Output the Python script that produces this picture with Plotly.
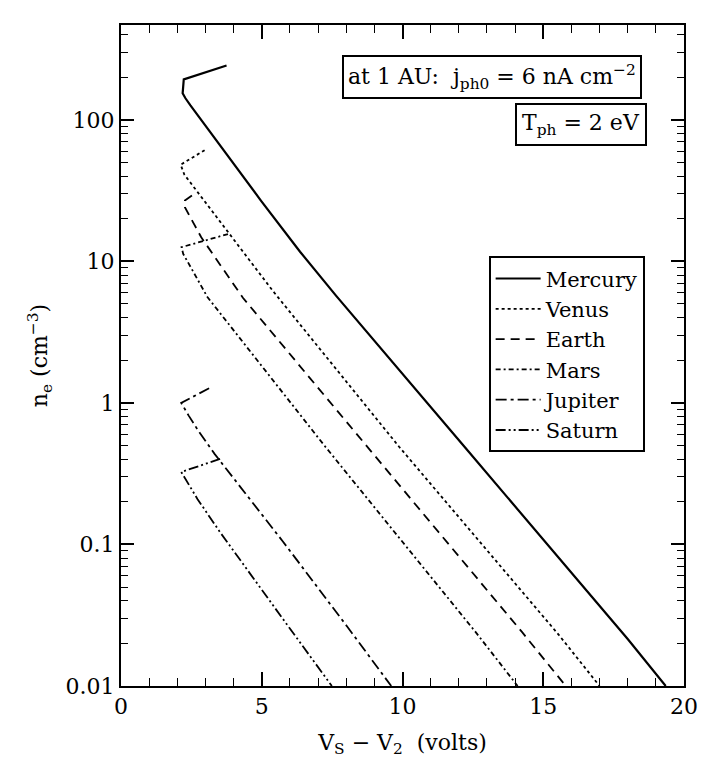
import plotly.graph_objects as go

# ---- data (V_S - V_2 in volts, n_e in cm^-3) ----
mercury_x = [3.75, 2.23, 2.19, 2.29, 2.46, 3.60, 4.97, 6.36, 7.63, 12.33, 18.0, 19.35]
mercury_y = [242, 193, 154, 142, 127, 63, 26.9, 11.7, 5.75, 0.457, 0.0215, 0.01]

venus_x = [2.97, 2.12, 2.25, 3.56, 5.39, 9.88, 15.55, 17.0]
venus_y = [61, 48.2, 41, 18.6, 6.2, 0.49, 0.023, 0.01]

earth_x = [2.52, 2.27, 2.27, 2.85, 4.33, 8.72, 14.25, 15.8]
earth_y = [29.2, 26.9, 24.1, 14.8, 5.53, 0.495, 0.024, 0.01]

mars_x = [3.80, 2.15, 2.21, 3.07, 7.21, 12.60, 14.09]
mars_y = [15.6, 12.6, 11.3, 5.6, 0.504, 0.024, 0.01]

jupiter_x = [3.13, 2.14, 2.41, 2.76, 3.33, 5.75, 8.04, 9.6]
jupiter_y = [1.27, 1.0, 0.81, 0.63, 0.435, 0.105, 0.0262, 0.01]

saturn_x = [3.52, 2.14, 2.72, 3.52, 5.93, 7.49]
saturn_y = [0.402, 0.325, 0.209, 0.122, 0.0266, 0.01]

names = ["Mercury", "Venus", "Earth", "Mars", "Jupiter", "Saturn"]
xs = [mercury_x, venus_x, earth_x, mars_x, jupiter_x, saturn_x]
ys = [mercury_y, venus_y, earth_y, mars_y, jupiter_y, saturn_y]
dashes = ["solid", "3px,3px", "9px,6px", "5px,3px,2px,3px",
          "11px,4px,3px,4px", "10px,3px,2px,3px,2px,3px"]
widths = [2.2, 1.8, 1.8, 1.8, 1.8, 1.8]

x_ticks = [0, 5, 10, 15, 20]
y_ticks = [0.01, 0.1, 1, 10, 100]
y_ticktext = ["0.01", "0.1", "1", "10", "100"]
y_minor = [k * 10.0 ** e for e in range(-2, 3) for k in range(2, 10)]

FONT = "DejaVu Serif"

fig = go.Figure()
for n, x, y, d, w in zip(names, xs, ys, dashes, widths):
    fig.add_trace(go.Scatter(x=x, y=y, mode="lines", name=n,
                             line=dict(color="black", dash=d, width=w)))

axis_common = dict(showline=True, linewidth=2, linecolor="black",
                   mirror="allticks", ticks="inside", tickcolor="black",
                   showgrid=False, zeroline=False,
                   tickfont=dict(family=FONT, size=22, color="black"))

fig.update_layout(
    width=710, height=763,
    margin=dict(l=121, r=19, t=25, b=70),
    paper_bgcolor="white", plot_bgcolor="white",
    showlegend=True,
    legend=dict(x=0.653, y=0.650, xanchor="left", yanchor="top",
                bordercolor="black", borderwidth=2, bgcolor="white",
                font=dict(family=FONT, size=21, color="black"),
                itemwidth=45, tracegroupgap=0),
    xaxis=dict(range=[0, 20], tickvals=x_ticks, ticklen=14, tickwidth=1.5,
               minor=dict(dtick=1, ticks="inside", ticklen=8, tickwidth=1,
                          tickcolor="black"),
               title=dict(text="V<sub>S</sub> − V<sub>2</sub>  (volts)",
                          font=dict(family=FONT, size=22, color="black"),
                          standoff=16),
               **axis_common),
    yaxis=dict(type="log", range=[-2, 2.67], tickvals=y_ticks,
               ticktext=y_ticktext, ticklen=13, tickwidth=1.5,
               minor=dict(tickvals=y_minor, ticks="inside", ticklen=7,
                          tickwidth=1, tickcolor="black"),
               title=dict(text="n<sub>e</sub> (cm<sup>−3</sup>)",
                          font=dict(family=FONT, size=22, color="black"),
                          standoff=12),
               **axis_common),
    annotations=[
        dict(text="at 1 AU:  j<sub>ph0</sub> = 6 nA cm<sup>−2</sup>",
             xref="paper", yref="paper", x=0.925, y=0.955,
             xanchor="right", yanchor="top", showarrow=False,
             bordercolor="black", borderwidth=2, borderpad=4,
             bgcolor="white",
             font=dict(family=FONT, size=22, color="black")),
        dict(text="T<sub>ph</sub> = 2 eV",
             xref="paper", yref="paper", x=0.935, y=0.882,
             xanchor="right", yanchor="top", showarrow=False,
             bordercolor="black", borderwidth=2, borderpad=5,
             bgcolor="white",
             font=dict(family=FONT, size=22, color="black")),
    ],
)

fig.write_html("out.html")
